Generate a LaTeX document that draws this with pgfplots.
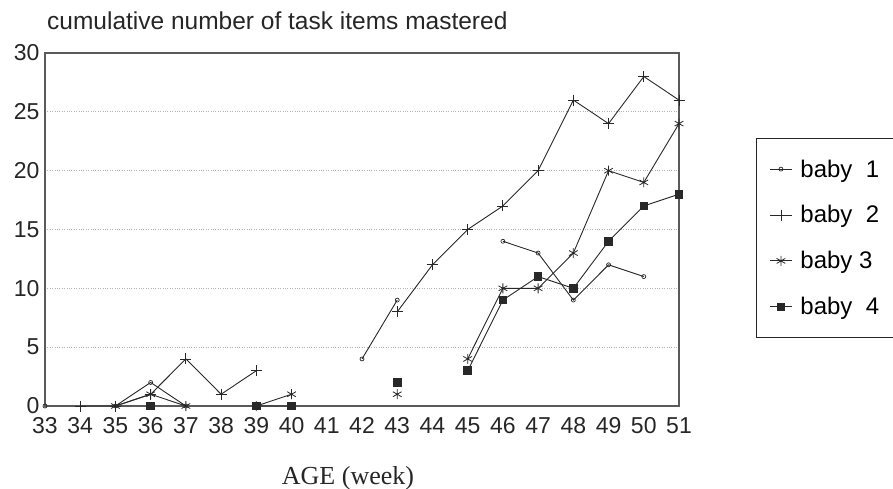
\documentclass[border=0pt]{standalone}
\usepackage{pgfplots}
\pgfplotsset{compat=1.18}
\usepackage{fontspec}
\setmainfont{Liberation Sans}
\newfontfamily\seriffont{Liberation Serif}
\definecolor{axgray}{RGB}{90,90,90}
\definecolor{linegray}{RGB}{40,40,40}
\begin{document}
\begin{tikzpicture}[x=1pt,y=1pt]
\begin{axis}[
  at={(45pt,82pt)}, anchor=south west,
  width=634pt, height=353pt, scale only axis,
  xmin=33, xmax=51, ymin=0, ymax=30,
  xtick={33,...,51}, ytick={0,5,...,30},
  major tick length=0pt,
  /pgf/number format/assume math mode=true,
  tick label style={font=\fontsize{23}{26}\selectfont, text=black!85},
  xticklabel style={yshift=-8pt},
  yticklabel style={xshift=-2pt},
  axis line style={axgray, line width=1.4pt},
  ymajorgrids, grid style={black!30, dotted, line width=1pt},
  unbounded coords=jump,
  legend style={at={(axis description cs:1.1213,0.759)}, anchor=north west,
    draw=black!85, line width=1.2pt, font=\fontsize{24}{28}\selectfont,
    row sep=23pt, column sep=6pt, inner xsep=13pt, inner ysep=19pt,
    nodes={inner sep=2pt}, cells={anchor=west}},
  legend cell align=left,
  legend image code/.code={\draw[mark repeat=2,mark phase=2,#1] plot coordinates {(0pt,0pt) (11pt,0pt) (22pt,0pt)};},
  every axis plot/.append style={linegray, line width=0.9pt},
]
\addplot[mark=o, mark size=2pt, mark options={line width=0.7pt}] coordinates {
(33,0) (34,nan) (35,0) (36,2) (37,0) (38,nan) (42,4) (43,9) (44,nan) (46,14) (47,13) (48,9) (49,12) (50,11)};
\addlegendentry{baby\ \ 1}
\addplot[mark=+, mark size=5.5pt, mark options={line width=0.8pt}] coordinates {
(34,0) (35,0) (36,1) (37,4) (38,1) (39,3) (40,nan) (43,8) (44,12) (45,15) (46,17) (47,20) (48,26) (49,24) (50,28) (51,26)};
\addlegendentry{baby\ \ 2}
\addplot[mark=asterisk, mark size=5pt, mark options={line width=0.8pt}] coordinates {
(35,0) (36,1) (37,0) (38,nan) (39,0) (40,1) (41,nan) (43,1) (44,nan) (45,4) (46,10) (47,10) (48,13) (49,20) (50,19) (51,24)};
\addlegendentry{baby 3}
\addplot[mark=square*, mark size=3.8pt] coordinates {
(36,0) (37,nan) (39,0) (40,0) (41,nan) (43,2) (44,nan) (45,3) (46,9) (47,11) (48,10) (49,14) (50,17) (51,18)};
\addlegendentry{baby\ \ 4}
\end{axis}
\node[anchor=base west, font=\fontsize{24.5}{28}\selectfont, text=black!85, inner sep=0pt] at (47pt,458pt) {cumulative number of task items mastered};
\node[anchor=base, font=\seriffont\fontsize{26}{30}\selectfont, text=black!85, inner sep=0pt] at (348pt,4pt) {AGE (week)};
\pgfresetboundingbox
\path[use as bounding box] (0,0) rectangle (893pt,488pt);
\end{tikzpicture}
\end{document}
